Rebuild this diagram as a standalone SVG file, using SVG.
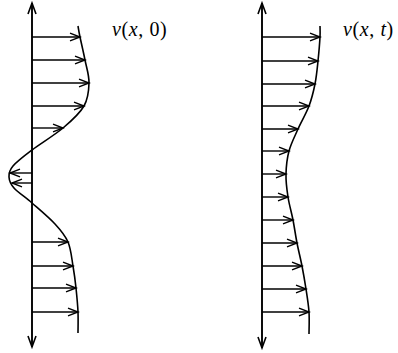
<svg xmlns="http://www.w3.org/2000/svg" width="398" height="353" viewBox="0 0 398 353">
<style>
.ax{stroke:#000;stroke-width:1.9;fill:none}
.ar{stroke:#000;stroke-width:1.4;fill:none}
.cv{stroke:#000;stroke-width:1.6;fill:none}
.lb{font-family:"Liberation Serif",serif;font-size:20px;fill:#000;letter-spacing:0.6px}
.it{font-style:italic}
</style>
<defs>
<marker id="ah" markerUnits="userSpaceOnUse" markerWidth="14" markerHeight="10" refX="0" refY="0" viewBox="-11 -5 12 10" orient="auto" overflow="visible">
<path d="M-10,-3.8 L0,0 L-10,3.8" fill="none" stroke="#000" stroke-width="1.4"/>
</marker>
<marker id="axh" markerUnits="userSpaceOnUse" markerWidth="14" markerHeight="12" refX="0" refY="0" viewBox="-13 -6 14 12" orient="auto" overflow="visible">
<path d="M-11,-4 L0,0 L-11,4" fill="none" stroke="#000" stroke-width="1.6"/>
</marker>
</defs>
<g id="left-profile">
<line class="ax" x1="32" y1="176" x2="32" y2="3" marker-end="url(#axh)"/>
<line class="ax" x1="32" y1="176" x2="32" y2="347" marker-end="url(#axh)"/>
<path class="cv" d="M78,26 C78.3,27.8 78.8,31.3 80,37 C81.2,42.7 83.5,52.3 85,60 C86.5,67.7 89.2,75.3 89,83 C88.8,90.7 88.3,98.5 84,106 C79.7,113.5 71.7,120.7 63,128 C54.3,135.3 40.3,143.7 32,150 C23.7,156.3 16.8,161.5 13,166 C9.2,170.5 8.8,173.3 9,177 C9.2,180.7 10.2,183.7 14,188 C17.8,192.3 25.2,197 32,203 C38.8,209 49,217.5 55,224 C61,230.5 65,235 68,242 C71,249 71.7,258.3 73,266 C74.3,273.7 75.2,280.3 76,288 C76.8,295.7 77.7,304.5 78,312 C78.3,319.5 78,329.5 78,333"/>
<text class="lb" x="112" y="36"><tspan class="it">v</tspan>(<tspan class="it">x</tspan>, 0)</text>
</g>
<g id="right-profile">
<line class="ax" x1="262" y1="176" x2="262" y2="3" marker-end="url(#axh)"/>
<line class="ax" x1="262" y1="176" x2="262" y2="348" marker-end="url(#axh)"/>
<path class="cv" d="M320,26 C320,27.8 320.3,31.2 320,37 C319.7,42.8 318.8,53.2 318,61 C317.2,68.8 316.5,76.5 315,84 C313.5,91.5 311.8,98.5 309,106 C306.2,113.5 301.3,121.5 298,129 C294.7,136.5 291,143.5 289,151 C287,158.5 286.2,166.3 286,174 C285.8,181.7 286.8,189.3 288,197 C289.2,204.7 291.5,212.3 293,220 C294.5,227.7 295.5,235.3 297,243 C298.5,250.7 300.5,258.3 302,266 C303.5,273.7 304.8,281.3 306,289 C307.2,296.7 308.5,304.5 309,312 C309.5,319.5 309,330.3 309,334"/>
<text class="lb" x="343" y="36"><tspan class="it">v</tspan>(<tspan class="it">x</tspan>, <tspan class="it">t</tspan>)</text>
</g>
<g id="connectors">
<line class="ar" x1="32" y1="37" x2="80" y2="37" marker-end="url(#ah)"/>
<line class="ar" x1="32" y1="60" x2="85" y2="60" marker-end="url(#ah)"/>
<line class="ar" x1="32" y1="83" x2="89" y2="83" marker-end="url(#ah)"/>
<line class="ar" x1="32" y1="106" x2="84" y2="106" marker-end="url(#ah)"/>
<line class="ar" x1="32" y1="128" x2="63" y2="128" marker-end="url(#ah)"/>
<line class="ar" x1="32" y1="173" x2="10" y2="173" marker-end="url(#ah)"/>
<line class="ar" x1="32" y1="183" x2="12" y2="183" marker-end="url(#ah)"/>
<line class="ar" x1="32" y1="242" x2="68" y2="242" marker-end="url(#ah)"/>
<line class="ar" x1="32" y1="266" x2="73" y2="266" marker-end="url(#ah)"/>
<line class="ar" x1="32" y1="288" x2="76" y2="288" marker-end="url(#ah)"/>
<line class="ar" x1="32" y1="312" x2="78" y2="312" marker-end="url(#ah)"/>
<line class="ar" x1="262" y1="37" x2="320" y2="37" marker-end="url(#ah)"/>
<line class="ar" x1="262" y1="61" x2="318" y2="61" marker-end="url(#ah)"/>
<line class="ar" x1="262" y1="84" x2="315" y2="84" marker-end="url(#ah)"/>
<line class="ar" x1="262" y1="106" x2="309" y2="106" marker-end="url(#ah)"/>
<line class="ar" x1="262" y1="129" x2="298" y2="129" marker-end="url(#ah)"/>
<line class="ar" x1="262" y1="151" x2="289" y2="151" marker-end="url(#ah)"/>
<line class="ar" x1="262" y1="174" x2="286" y2="174" marker-end="url(#ah)"/>
<line class="ar" x1="262" y1="197" x2="288" y2="197" marker-end="url(#ah)"/>
<line class="ar" x1="262" y1="220" x2="293" y2="220" marker-end="url(#ah)"/>
<line class="ar" x1="262" y1="243" x2="297" y2="243" marker-end="url(#ah)"/>
<line class="ar" x1="262" y1="266" x2="302" y2="266" marker-end="url(#ah)"/>
<line class="ar" x1="262" y1="289" x2="306" y2="289" marker-end="url(#ah)"/>
<line class="ar" x1="262" y1="312" x2="309" y2="312" marker-end="url(#ah)"/>
</g>
</svg>
